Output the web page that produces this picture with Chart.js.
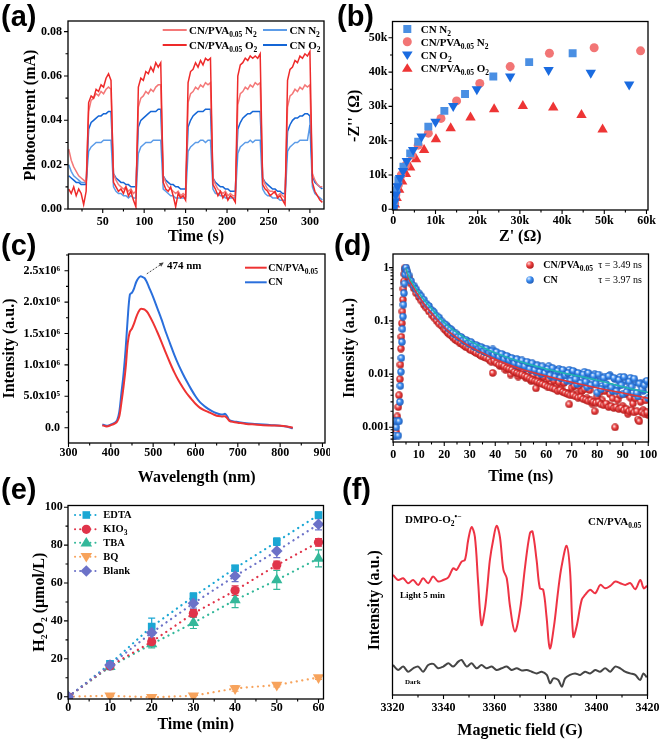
<!DOCTYPE html>
<html><head><meta charset="utf-8">
<script src="https://cdn.jsdelivr.net/npm/chart.js@4.4.1/dist/chart.umd.min.js"></script>
<style>
html,body{margin:0;padding:0;background:#fff;}
#fig{position:relative;width:661px;height:741px;overflow:hidden;background:#fff;font-family:"Liberation Serif","Times New Roman",serif;}
canvas{position:absolute;}
.pl{position:absolute;font-family:"Liberation Sans",Arial,sans-serif;font-weight:bold;font-size:29px;line-height:29px;color:#000;}
.lg{position:absolute;font-weight:bold;font-size:11px;line-height:14px;white-space:nowrap;color:#000;}
.lg sub{font-size:7.5px;vertical-align:-2.5px;line-height:0;}
.lg sup{font-size:7.5px;vertical-align:4px;line-height:0;}
#ov{position:absolute;left:0;top:0;width:661px;height:741px;overflow:visible;}
</style></head>
<body><div id="fig">
<canvas id="ca"></canvas><canvas id="cb"></canvas><canvas id="cc"></canvas>
<canvas id="cd"></canvas><canvas id="ce"></canvas><canvas id="cf"></canvas>

<svg id="ov" width="661" height="741" xmlns="http://www.w3.org/2000/svg">
<defs>
<radialGradient id="gRed" cx="0.35" cy="0.3" r="0.75"><stop offset="0" stop-color="#ffd8d8"/><stop offset="0.45" stop-color="#ec4040"/><stop offset="1" stop-color="#a81818"/></radialGradient>
<radialGradient id="gBlue" cx="0.35" cy="0.3" r="0.75"><stop offset="0" stop-color="#e0eeff"/><stop offset="0.45" stop-color="#3a8cf0"/><stop offset="1" stop-color="#1d58b2"/></radialGradient>
</defs>
<line x1="162.7" y1="30" x2="186.7" y2="30" stroke="#f47878" stroke-width="2"/>
<line x1="263" y1="30" x2="287" y2="30" stroke="#5c9ce8" stroke-width="2"/>
<line x1="162.7" y1="45" x2="186.7" y2="45" stroke="#ee2a2a" stroke-width="2"/>
<line x1="263" y1="45" x2="287" y2="45" stroke="#1466d6" stroke-width="2"/>
<rect x="403.3" y="25" width="8" height="8" fill="#4a8fe3"/>
<circle cx="407.3" cy="41.7" r="4.5" fill="#f27575"/>
<polygon points="402,51.5 412.6,51.5 407.3,60" fill="#1a6be0"/>
<polygon points="402,71.8 412.6,71.8 407.3,63.3" fill="#ee3535"/>
<line x1="245" y1="267.7" x2="266.7" y2="267.7" stroke="#ee3333" stroke-width="2"/>
<line x1="245" y1="282.3" x2="266.7" y2="282.3" stroke="#2a6fdc" stroke-width="2"/>
<circle cx="530" cy="265" r="3.8" fill="url(#gRed)"/>
<circle cx="530" cy="280" r="3.8" fill="url(#gBlue)"/>
<line x1="75" y1="515" x2="98" y2="515" stroke="#1ba7d4" stroke-width="2" stroke-dasharray="0.1 5" stroke-linecap="round"/>
<rect x="82.5" y="511.2" width="7.6" height="7.6" fill="#1ba7d4"/>
<line x1="75" y1="529.3" x2="98" y2="529.3" stroke="#e0344a" stroke-width="2" stroke-dasharray="0.1 5" stroke-linecap="round"/>
<circle cx="86.3" cy="529.3" r="4.6" fill="#e0344a"/>
<line x1="75" y1="542.7" x2="98" y2="542.7" stroke="#34b89a" stroke-width="2" stroke-dasharray="0.1 5" stroke-linecap="round"/>
<polygon points="80.5,546.5 92.1,546.5 86.3,537" fill="#34b89a"/>
<line x1="75" y1="556.7" x2="98" y2="556.7" stroke="#f7a35c" stroke-width="2" stroke-dasharray="0.1 5" stroke-linecap="round"/>
<polygon points="80.5,552.9 92.1,552.9 86.3,562.4" fill="#f7a35c"/>
<line x1="75" y1="571" x2="98" y2="571" stroke="#6c72c8" stroke-width="2" stroke-dasharray="0.1 5" stroke-linecap="round"/>
<polygon points="86.3,565.2 92.1,571 86.3,576.8 80.5,571" fill="#6c72c8"/>
</svg>

<div class="pl" style="left:1px;top:2px">(a)</div>
<div class="pl" style="left:337px;top:2px">(b)</div>
<div class="pl" style="left:1px;top:231px">(c)</div>
<div class="pl" style="left:334px;top:231px">(d)</div>
<div class="pl" style="left:1px;top:475px">(e)</div>
<div class="pl" style="left:342px;top:475px">(f)</div>

<div class="lg" style="left:189px;top:23px">CN/PVA<sub>0.05</sub> N<sub>2</sub></div>
<div class="lg" style="left:289.5px;top:23px">CN N<sub>2</sub></div>
<div class="lg" style="left:189px;top:38px">CN/PVA<sub>0.05</sub> O<sub>2</sub></div>
<div class="lg" style="left:289.5px;top:38px">CN O<sub>2</sub></div>

<div class="lg" style="left:420.7px;top:22px">CN N<sub>2</sub></div>
<div class="lg" style="left:420.7px;top:34.7px">CN/PVA<sub>0.05</sub> N<sub>2</sub></div>
<div class="lg" style="left:420.7px;top:48px">CN O<sub>2</sub></div>
<div class="lg" style="left:420.7px;top:60.7px">CN/PVA<sub>0.05</sub> O<sub>2</sub></div>

<div class="lg" style="left:268.3px;top:260.7px;font-size:10px">CN/PVA<sub>0.05</sub></div>
<div class="lg" style="left:268.3px;top:275.3px;font-size:10px">CN</div>
<div class="lg" style="left:167px;top:258px">474 nm</div>

<div class="lg" style="left:543.3px;top:258px;font-size:10px">CN/PVA<sub>0.05</sub></div>
<div class="lg" style="left:598.3px;top:258px;font-size:10px;font-weight:normal">τ = 3.49 ns</div>
<div class="lg" style="left:543.3px;top:273px;font-size:10px">CN</div>
<div class="lg" style="left:598.3px;top:273px;font-size:10px;font-weight:normal">τ = 3.97 ns</div>

<div class="lg" style="left:103.3px;top:508px;font-size:10.5px">EDTA</div>
<div class="lg" style="left:103.3px;top:522.3px;font-size:10.5px">KIO<sub>3</sub></div>
<div class="lg" style="left:103.3px;top:535.7px;font-size:10.5px">TBA</div>
<div class="lg" style="left:103.3px;top:549.7px;font-size:10.5px">BQ</div>
<div class="lg" style="left:103.3px;top:564px;font-size:10.5px">Blank</div>

<div class="lg" style="left:405px;top:512px">DMPO-O<sub>2</sub><sup>•−</sup></div>
<div class="lg" style="left:588px;top:513.5px">CN/PVA<sub>0.05</sub></div>
<div class="lg" style="left:400px;top:588px;font-size:9px">Light 5 min</div>
<div class="lg" style="left:405px;top:675px;font-size:7px">Dark</div>
</div>

<script>
// ---------------- DATA ----------------
// (a) photocurrent, time in s, current in mA
const aTime = [9,12,15,18,21,24,27,30,33,36,39,42,45,48,51,54,57,60,63,66,69,72,75,78,81,84,87,90,93,96,99,102,105,108,111,114,117,120,123,126,129,132,135,138,141,144,147,150,153,156,159,162,165,168,171,174,177,180,183,186,189,192,195,198,201,204,207,210,213,216,219,222,225,228,231,234,237,240,243,246,249,252,255,258,261,264,267,270,273,276,279,282,285,288,291,294,297,300,303,306,309,312,315];
const aPvaO2 = [0.009,0.007,0.010,0.006,0.009,0.007,0.002,0.008,
 0.048,0.051,0.050,0.054,0.053,0.056,0.055,0.059,0.061,0.058,
 0.012,0.010,0.008,0.009,0.007,0.010,0.006,0.008,0.004,0.001,
 0.055,0.059,0.058,0.062,0.061,0.064,0.062,0.066,0.064,0.066,
 0.012,0.009,0.008,0.010,0.006,0.001,0.007,0.005,0.006,0.004,
 0.057,0.062,0.063,0.066,0.064,0.067,0.065,0.068,0.067,0.068,
 0.011,0.009,0.006,0.008,0.005,0.007,0.004,0.006,0.005,0.003,
 0.060,0.065,0.066,0.068,0.067,0.069,0.068,0.069,0.068,0.070,
 0.011,0.009,0.008,0.006,0.007,0.008,0.005,0.006,0.004,0.002,
 0.058,0.063,0.064,0.067,0.066,0.069,0.068,0.070,0.069,0.071,
 0.012,0.008,0.006,0.004,0.003];
const aPvaN2 = [0.027,0.022,0.019,0.017,0.015,0.014,0.013,0.012,
 0.044,0.049,0.050,0.052,0.051,0.053,0.052,0.054,0.055,0.054,
 0.016,0.013,0.011,0.010,0.009,0.010,0.008,0.009,0.007,0.008,
 0.046,0.050,0.051,0.053,0.052,0.054,0.053,0.055,0.056,0.056,
 0.015,0.012,0.010,0.009,0.008,0.007,0.008,0.006,0.007,0.006,
 0.048,0.052,0.053,0.055,0.054,0.056,0.055,0.057,0.056,0.057,
 0.014,0.011,0.009,0.008,0.007,0.008,0.006,0.007,0.006,0.006,
 0.047,0.052,0.053,0.055,0.054,0.056,0.055,0.057,0.056,0.057,
 0.014,0.011,0.009,0.008,0.008,0.007,0.006,0.007,0.006,0.005,
 0.046,0.051,0.052,0.054,0.053,0.055,0.054,0.056,0.055,0.056,
 0.016,0.013,0.011,0.010,0.010];
const aCnO2 = [0.015,0.014,0.013,0.012,0.012,0.011,0.011,0.011,
 0.036,0.039,0.040,0.041,0.042,0.042,0.043,0.043,0.044,0.044,
 0.016,0.014,0.013,0.012,0.012,0.011,0.011,0.010,0.010,0.010,
 0.037,0.040,0.041,0.042,0.043,0.044,0.044,0.044,0.045,0.045,
 0.015,0.013,0.012,0.011,0.011,0.010,0.010,0.009,0.009,0.009,
 0.037,0.040,0.042,0.043,0.044,0.044,0.044,0.045,0.045,0.045,
 0.014,0.012,0.011,0.010,0.010,0.009,0.009,0.008,0.008,0.008,
 0.036,0.039,0.041,0.042,0.043,0.043,0.044,0.044,0.044,0.044,
 0.014,0.012,0.011,0.010,0.009,0.009,0.008,0.008,0.007,0.007,
 0.035,0.038,0.040,0.041,0.041,0.042,0.042,0.043,0.043,0.042,
 0.015,0.012,0.011,0.010,0.009];
const aCnN2 = [0.020,0.017,0.015,0.014,0.013,0.012,0.012,0.012,
 0.026,0.028,0.029,0.030,0.030,0.030,0.031,0.031,0.031,0.031,
 0.010,0.008,0.007,0.007,0.006,0.006,0.005,0.006,0.005,0.005,
 0.025,0.028,0.029,0.030,0.030,0.030,0.031,0.031,0.031,0.031,
 0.009,0.008,0.007,0.006,0.006,0.005,0.005,0.005,0.005,0.005,
 0.026,0.028,0.029,0.030,0.030,0.031,0.031,0.030,0.031,0.031,
 0.009,0.007,0.007,0.006,0.006,0.005,0.005,0.005,0.005,0.005,
 0.025,0.028,0.029,0.030,0.030,0.031,0.030,0.031,0.031,0.031,
 0.009,0.007,0.006,0.006,0.005,0.005,0.005,0.004,0.004,0.004,
 0.026,0.028,0.029,0.030,0.030,0.031,0.031,0.031,0.031,0.038,
 0.010,0.007,0.006,0.005,0.004];

// (b) Nyquist, ohm
const bCnN2X = [42500,32200,23700,17000,12100,8300,5900,4000,2400,1200,700,300,100,0];
const bCnN2Y = [45500,42900,38700,33600,28700,24100,19700,16300,12400,8500,5600,3200,1300,0];
const bPvaN2X = [58600,47600,37000,27700,20500,15000,11300,8300,5900,4400,3000,1900,1200,600,300,100];
const bPvaN2Y = [46200,47100,45500,41600,36700,31600,26500,22200,18700,15800,12900,10000,7100,4200,1800,0];
const bCnO2X = [55900,46800,36800,27700,19800,14200,10000,6700,4700,3200,2300,1600,1000,600,300,100];
const bCnO2Y = [36400,39800,40600,38700,35000,30100,25500,21200,17300,14100,11200,9100,6700,4300,2300,400];
const bPvaO2X = [49600,44600,37900,30700,23900,18300,13600,10100,7300,5400,4000,3000,2100,1400,800,400,200];
const bPvaO2Y = [23300,27500,29700,30100,29200,26800,23600,20400,17300,14600,12200,10300,8100,5700,3300,1400,0];

// (c) PL spectra, intensity in units of 10^6
const cLambda = [380,390,400,410,415,420,425,430,435,440,445,450,455,460,465,470,475,480,485,490,500,510,520,530,540,550,560,570,580,590,600,610,620,630,640,650,660,665,670,675,680,690,700,720,740,760,780,800,815,830];
const cCN = [0.05,0.03,0.05,0.08,0.12,0.25,0.55,0.85,1.25,1.75,2.12,2.15,2.22,2.32,2.38,2.41,2.40,2.38,2.32,2.24,2.08,1.90,1.72,1.52,1.34,1.16,1.00,0.86,0.73,0.61,0.50,0.41,0.35,0.30,0.26,0.23,0.21,0.21,0.22,0.18,0.12,0.10,0.09,0.07,0.06,0.05,0.04,0.03,0.02,-0.01];
const cPVA = [0.04,0.02,0.04,0.07,0.10,0.18,0.40,0.65,0.95,1.35,1.53,1.58,1.66,1.76,1.84,1.89,1.89,1.88,1.85,1.80,1.67,1.52,1.36,1.19,1.03,0.88,0.75,0.64,0.54,0.46,0.38,0.32,0.28,0.25,0.22,0.19,0.18,0.18,0.18,0.15,0.11,0.09,0.08,0.06,0.05,0.04,0.035,0.03,0.02,0.0];
const cArrowFrom = [485, 2.45], cArrowTo = [525, 2.63];

// (d) TRPL decay, ns
const dTime = [0,0.4,0.8,1.2,1.6,2.0,2.3,2.6,2.8,3.0,3.2,3.4,3.6,3.8,4.0,4.2,4.4,4.6,4.8,5.0,5.5,
 6,7,8,9,10,11,12,13,14,15,16,17,18,19,20,21,22,23,24,25,26,27,28,29,30,31,32,33,34,35,36,37,38,39,40,41,42,43,44,45,46,47,48,49,50,51,52,53,54,55,56,57,58,59,60,61,62,63,64,65,66,67,68,69,70,71,72,73,74,75,76,77,78,79,80,81,82,83,84,85,86,87,88,89,90,91,92,93,94,95,96,97,98,99,100];
const dCN = [0.0007,0.0013,0.0007,0.001,0.0013,0.0007,0.0013,0.003,0.006,0.011,0.02,0.04,0.07,0.12,0.2,0.33,0.5,0.75,0.95,1.0,0.85,
 0.72,0.56,0.46,0.39,0.33,0.29,0.25,0.21,0.19,0.16,
 0.145,0.125,0.115,0.098,0.088,0.080,0.071,0.066,0.057,0.055,
 0.049,0.047,0.041,0.042,0.036,0.037,0.032,0.034,0.029,0.031,
 0.026,0.028,0.024,0.029,0.022,0.024,0.020,0.023,0.018,0.021,
 0.017,0.019,0.015,0.018,0.014,0.017,0.013,0.016,0.012,0.015,
 0.011,0.014,0.010,0.013,0.011,0.014,0.009,0.012,0.010,0.0125,
 0.0085,0.011,0.0075,0.012,0.009,0.011,0.0065,0.010,0.008,0.011,
 0.0058,0.0095,0.007,0.010,0.0045,0.0085,0.006,0.009,0.0055,0.0095,
 0.0048,0.008,0.0058,0.0088,0.0042,0.0075,0.0052,0.0085,0.0045,0.007,
 0.0038,0.0068,0.0048,0.0072,0.0035];
const dPVA = [0.0009,0.0007,0.0013,0.0008,0.0016,0.0024,0.004,0.008,0.015,0.03,0.05,0.09,0.15,0.25,0.4,0.55,0.75,0.9,1.0,0.95,0.8,
 0.66,0.50,0.41,0.33,0.28,0.24,0.20,0.175,0.15,0.13,
 0.115,0.10,0.088,0.080,0.070,0.063,0.056,0.052,0.046,0.043,
 0.039,0.037,0.034,0.033,0.029,0.029,0.026,0.027,0.023,0.024,
 0.021,0.022,0.018,0.0105,0.017,0.019,0.014,0.016,0.012,0.015,
 0.0098,0.013,0.011,0.0090,0.011,0.012,0.0085,0.010,0.0075,0.0095,
 0.0054,0.0090,0.0070,0.0088,0.0062,0.0080,0.0065,0.0075,0.0058,0.0070,
 0.0052,0.0068,0.0045,0.0027,0.0055,0.0060,0.0042,0.0058,0.0048,0.0052,
 0.0035,0.0050,0.0028,0.0020,0.0038,0.0045,0.0032,0.0048,0.0026,0.0042,
 0.0035,0.0010,0.0033,0.0040,0.0025,0.0042,0.0018,0.0036,0.0028,0.0035,
 0.0014,0.0030,0.0021,0.0032,0.0017];
// additional (interleaved) time samples of the decay
const dTime2 = [20.5,21.5,22.5,23.5,24.5,25.5,26.5,27.5,28.5,29.5,30.5,31.5,32.5,33.5,34.5,35.5,36.5,37.5,38.5,39.5,40.5,41.5,42.5,43.5,44.5,45.5,46.5,47.5,48.5,49.5,50.5,51.5,52.5,53.5,54.5,55.5,56.5,57.5,58.5,59.5,60.5,61.5,62.5,63.5,64.5,65.5,66.5,67.5,68.5,69.5,70.5,71.5,72.5,73.5,74.5,75.5,76.5,77.5,78.5,79.5,80.5,81.5,82.5,83.5,84.5,85.5,86.5,87.5,88.5,89.5,90.5,91.5,92.5,93.5,94.5,95.5,96.5,97.5,98.5,99.5];
const dCN2 = [0.085,0.074,0.069,0.060,0.058,0.050,0.050,0.043,0.044,0.038,
 0.040,0.034,0.035,0.030,0.032,0.027,0.030,0.025,0.027,0.023,
 0.026,0.021,0.024,0.019,0.022,0.018,0.020,0.016,0.019,0.015,
 0.018,0.014,0.017,0.0125,0.016,0.012,0.0145,0.011,0.014,0.0105,
 0.0125,0.0095,0.013,0.009,0.0115,0.0085,0.012,0.0095,0.0105,0.0075,
 0.0115,0.008,0.0105,0.0068,0.0098,0.0072,0.0105,0.0062,0.0092,0.0066,
 0.0098,0.0052,0.0085,0.0065,0.0092,0.0056,0.0085,0.0048,0.0078,0.0062,
 0.0088,0.0046,0.0072,0.0058,0.0082,0.0044,0.0066,0.0052,0.0062,0.0075];
const dPVA2 = [0.067,0.060,0.054,0.049,0.044,0.041,0.038,0.035,0.032,0.031,
 0.028,0.027,0.025,0.024,0.022,0.021,0.020,0.019,0.017,0.018,
 0.016,0.015,0.015,0.014,0.013,0.0125,0.012,0.011,0.0105,0.010,
 0.0098,0.0092,0.0088,0.0082,0.0078,0.0074,0.0072,0.0068,0.0065,0.0062,
 0.0058,0.0056,0.0054,0.0052,0.0048,0.0050,0.0046,0.0044,0.0042,0.0040,
 0.0041,0.0038,0.0036,0.0037,0.0034,0.0033,0.0031,0.0032,0.0030,0.0029,
 0.0030,0.0027,0.0026,0.0028,0.0024,0.0025,0.0023,0.0024,0.0022,0.0023,
 0.0021,0.0022,0.0020,0.0021,0.0019,0.0020,0.0013,0.0019,0.0018,0.0019];
const dFitTime = [5,6,8,10,12,15,20,25,30,35,40,50,60,70,80,90,100];
const dFitPVA = [0.95,0.64,0.42,0.29,0.21,0.14,0.075,0.048,0.033,0.025,0.019,0.0125,0.0092,0.007,0.0055,0.0044,0.0035];
const dFitCN = [0.97,0.70,0.47,0.34,0.25,0.17,0.092,0.060,0.042,0.032,0.025,0.017,0.0125,0.0097,0.0077,0.0058,0.0045];

// (e) H2O2 production, umol/L
const eTime = [0,10,20,30,40,50,60];
const eEDTA = [0,17.3,37,52.8,67.8,81.8,95.9];
const eKIO3 = [0,16.2,29,44,56,69.5,81.5];
const eTBA = [0,15.8,27.8,39,51,61.6,73];
const eBQ = [0,0.5,-0.3,0.5,4.4,6.2,10.2];
const eBlank = [0,16.7,33.8,49.3,63.7,76.9,91];
const eEDTAerr = [0,1.5,4.5,2,1.5,2,1.5];
const eKIO3err = [0,1,2,2,2.5,2,2];
const eTBAerr = [0,1.5,2,3,4,5,4.5];
const eBQerr = [0,0.5,0.5,0.5,1.5,1,1];
const eBlankerr = [0,1.5,3,2.5,3,3.5,3];

// (f) EPR, field in G, intensity in arbitrary units
const fLightX = [3320.2,3322.2,3324.2,3326.1,3328.1,3330.1,3332.0,3334.0,3335.9,3337.9,3339.9,3341.9,3343.8,3345.1,3347.1,3348.4,3349.7,3351.0,3352.3,3353.6,3354.9,3356.2,3357.2,3358.2,3359.5,3360.8,3362.1,3363.5,3364.8,3366.1,3368.0,3370.0,3372.0,3373.9,3374.9,3376.5,3377.8,3379.1,3380.4,3381.7,3383.3,3385.0,3386.3,3388.3,3389.6,3390.9,3392.2,3394.2,3395.5,3397.5,3399.5,3401.5,3403.4,3405.4,3407.4,3409.3,3411.3,3413.3,3415.2,3417.2,3418.5,3419.8];
const fLightY = [63.4,60.7,61.6,59.0,60.7,58.1,61.6,59.0,62.5,59.9,60.7,62.1,66.9,66.0,70.4,71.3,81.9,88.6,83.6,59.0,37.0,44.9,57.2,71.3,81.9,89.3,83.6,66.0,61.6,46.7,33.5,44.9,67.8,85.4,86.3,71.3,56.3,55.5,41.4,24.6,36.1,55.5,67.8,78.7,66.0,30.8,36.1,50.2,52.8,55.5,53.7,58.1,56.3,57.6,59.9,59.0,58.1,59.0,55.8,60.7,56.3,57.6];
const fDarkX = [3320.2,3322.2,3324.2,3326.1,3328.1,3330.1,3332.0,3334.0,3336.0,3337.9,3339.9,3341.9,3343.8,3345.8,3347.1,3349.1,3351.0,3353.0,3354.9,3356.9,3358.9,3360.8,3362.8,3364.8,3366.7,3368.7,3370.7,3372.6,3374.6,3376.5,3378.5,3380.5,3381.8,3383.1,3385.0,3386.4,3387.7,3389.6,3391.6,3393.6,3395.5,3397.5,3399.5,3401.4,3403.4,3405.4,3407.3,3409.3,3411.2,3413.2,3415.2,3417.1,3418.4,3419.7];
const fDarkY = [15.8,13.2,15.0,12.3,14.1,15.0,12.3,15.8,16.4,14.1,15.0,16.7,15.0,17.6,18.5,15.0,16.7,14.1,15.8,14.1,15.0,13.2,14.1,15.0,13.2,14.1,12.9,13.2,12.3,11.4,12.3,10.6,6.2,8.8,7.9,4.4,8.8,10.6,11.4,10.6,12.3,11.4,13.2,12.3,14.1,12.3,15.0,14.1,12.3,11.4,10.6,7.9,11.4,9.3];

// tick labels (major ticks)
const aXTicks = [50,100,150,200,250,300], aYTicks = [0,0.02,0.04,0.06,0.08];
const bXTicks = [0,10000,20000,30000,40000,50000,60000], bYTicks = [0,10000,20000,30000,40000,50000];
const cXTicks = [300,400,500,600,700,800,900], cYTicks = [0,500000,1000000,1500000,2000000,2500000];
const dXTicks = [0,10,20,30,40,50,60,70,80,90,100], dYTicks = [0.001,0.01,0.1,1];
const dYMinor = [0.0006,0.0007,0.0008,0.0009,0.002,0.003,0.004,0.005,0.006,0.007,0.008,0.009,0.02,0.03,0.04,0.05,0.06,0.07,0.08,0.09,0.2,0.3,0.4,0.5,0.6,0.7,0.8,0.9];
const eXTicks = [0,10,20,30,40,50,60], eYTicks = [0,20,40,60,80,100];
const fXTicks = [3320,3340,3360,3380,3400,3420];

// ---------------- HELPERS ----------------
const SERIF = '"Liberation Serif","Times New Roman",serif';
function isMajor(majors, v){ return majors.some(m => Math.abs(m - v) <= 1e-9 * Math.max(1, Math.abs(m))); }
function gridTicks(step, min, max){ const out=[]; const a=Math.ceil(min/step-1e-9), b=Math.floor(max/step+1e-9); for(let k=a;k<=b;k++) out.push(+(k*step).toPrecision(12)); return out; }
const pts = (xs, ys, k) => xs.map((x,i)=>({x, y: ys[i]*(k||1)}));

function frame(opts){
  return { id:'frame', afterDraw(chart){
    const {ctx, chartArea:a} = chart;
    const xs = chart.scales.x, ys = chart.scales.y;
    ctx.save();
    ctx.strokeStyle='#000'; ctx.lineWidth=1.1;
    ctx.beginPath();
    if (opts.x !== false) xs.ticks.forEach(t => { const p = xs.getPixelForValue(t.value); if (p < a.left-0.6 || p > a.right+0.6) return; const L = t.label ? 4 : 2.5; ctx.moveTo(p, a.bottom); ctx.lineTo(p, a.bottom + L); });
    if (opts.y !== false) ys.ticks.forEach(t => { const p = ys.getPixelForValue(t.value); if (p < a.top-0.6 || p > a.bottom+0.6) return; const L = t.label ? 4 : 2.5; ctx.moveTo(a.left, p); ctx.lineTo(a.left - L, p); });
    ctx.stroke();
    ctx.lineWidth=1.3;
    ctx.strokeRect(a.left, a.top, a.right-a.left, a.bottom-a.top);
    ctx.restore();
  }};
}

function makePanel(id, box, area, xs, ys, datasets, extra){
  extra = extra || {};
  const cv = document.getElementById(id);
  cv.width = box.w; cv.height = box.h;
  cv.style.left = box.x+'px'; cv.style.top = box.y+'px';
  cv.style.width = box.w+'px'; cv.style.height = box.h+'px';
  const mk = (s, isX) => ({
    type: s.type || 'linear', position: isX?'bottom':'left', min:s.min, max:s.max,
    grid:{display:false, drawTicks:false}, border:{display:false},
    ticks:{display: s.labels !== false, autoSkip:false, maxRotation:0, minRotation:0, padding:s.pad||0, color:'#000',
      font:{family:SERIF, weight:'bold', size:12}, callback:(v)=> isMajor(s.majors, v) ? s.fmt(v) : ''},
    title:{display:true, text:s.title, color:'#000', font:{family:SERIF, weight:'bold', size:16},
      padding: isX?{top:0,bottom:s.tpad}:{top:s.tpad,bottom:0}},
    afterBuildTicks:(sc)=>{ sc.ticks = s.all.map(v=>({value:v})); },
    afterFit:(sc)=>{ if(isX){ sc.height = box.y+box.h-area.b; sc.paddingLeft=0; sc.paddingRight=0; } else { sc.width = area.l-box.x; sc.paddingTop=0; sc.paddingBottom=0; } }
  });
  return new Chart(cv, {
    type:'scatter',
    data:{datasets},
    options:{ responsive:false, maintainAspectRatio:false, animation:false, devicePixelRatio:1, events:[],
      layout:{padding:{left:0, top:area.t-box.y, right:box.x+box.w-area.r, bottom:0}},
      plugins:{legend:{display:false}, tooltip:{enabled:false}},
      scales:{x:mk(xs,true), y:mk(ys,false)} },
    plugins:[frame(extra.frame || {}), ...(extra.plugins || [])]
  });
}
const line = (data, color, w, order, more) => Object.assign({data, borderColor:color, backgroundColor:color, borderWidth:w, pointRadius:0, showLine:true, tension:0, order}, more||{});
const kfmt = v => v===0 ? '0' : (v/1000)+'k';
const SUPS = {5:'⁵',6:'⁶'};
const sci = v => { if (Math.abs(v) < 1) return '0.0'; const e = Math.floor(Math.log10(v)+1e-9); return (v/Math.pow(10,e)).toFixed(1)+'x10'+SUPS[e]; };

// ---------------- (a) ----------------
makePanel('ca', {x:0,y:0,w:330,h:250}, {l:68,t:21,r:324,b:209},
  {min:8.1, max:317, majors:aXTicks, all:gridTicks(25,8.1,317), fmt:String, pad:5.5, title:'Time (s)', tpad:3.4},
  {min:0, max:0.0848, majors:aYTicks, all:gridTicks(0.01,0,0.0848), fmt:v=>v.toFixed(2), pad:6, title:'Photocurrent (mA)', tpad:21},
  [ line(pts(aTime,aPvaO2), '#ee2a2a', 1.5, 0),
    line(pts(aTime,aPvaN2), '#f47878', 1.5, 1),
    line(pts(aTime,aCnO2), '#1466d6', 1.5, 2),
    line(pts(aTime,aCnN2), '#5c9ce8', 1.5, 3) ]);

// ---------------- (b) ----------------
const sc = (data, color, style, r, rot, order) => ({data, pointStyle:style, pointRadius:r, rotation:rot||0, backgroundColor:color, borderColor:color, pointBorderWidth:0, showLine:false, order});
makePanel('cb', {x:330,y:0,w:331,h:250}, {l:392.5,t:21.5,r:648,b:210},
  {min:-190, max:60360, majors:bXTicks, all:gridTicks(5000,-190,60360), fmt:kfmt, pad:3.8, title:"Z' (Ω)", tpad:3.4},
  {min:-200, max:54750, majors:bYTicks, all:gridTicks(5000,-200,54750), fmt:kfmt, pad:5.2, title:"-Z'' (Ω)", tpad:15.4},
  [ sc(pts(bCnO2X,bCnO2Y), '#1a6be0', 'triangle', 6, 180, 0),
    sc(pts(bCnN2X,bCnN2Y), '#4a8fe3', 'rect', 5.6, 0, 1),
    sc(pts(bPvaN2X,bPvaN2Y), '#f27575', 'circle', 4.5, 0, 2),
    sc(pts(bPvaO2X,bPvaO2Y), '#ee3535', 'triangle', 6, 0, 3) ]);

// ---------------- (c) ----------------
const arrowPlugin = { id:'arrow', afterDatasetsDraw(chart){
  const xs=chart.scales.x, ys=chart.scales.y, ctx=chart.ctx;
  const x1=xs.getPixelForValue(cArrowFrom[0]), y1=ys.getPixelForValue(cArrowFrom[1]*1e6);
  const x2=xs.getPixelForValue(cArrowTo[0]), y2=ys.getPixelForValue(cArrowTo[1]*1e6);
  ctx.save(); ctx.strokeStyle='#444'; ctx.fillStyle='#444'; ctx.lineWidth=1; ctx.setLineDash([2,1.5]);
  ctx.beginPath(); ctx.moveTo(x1,y1); ctx.lineTo(x2,y2); ctx.stroke(); ctx.setLineDash([]);
  const ang=Math.atan2(y2-y1,x2-x1);
  ctx.beginPath(); ctx.moveTo(x2,y2); ctx.lineTo(x2-5*Math.cos(ang-0.45), y2-5*Math.sin(ang-0.45)); ctx.lineTo(x2-5*Math.cos(ang+0.45), y2-5*Math.sin(ang+0.45)); ctx.closePath(); ctx.fill();
  ctx.restore(); } };
makePanel('cc', {x:0,y:240,w:330,h:250}, {l:68.5,t:254,r:325,b:443},
  {min:300, max:906, majors:cXTicks, all:gridTicks(50,300,906), fmt:String, pad:3.1, title:'Wavelength (nm)', tpad:2.1},
  {min:-244000, max:2766000, majors:cYTicks, all:gridTicks(250000,-244000,2766000), fmt:sci, pad:8.5, title:'Intensity (a.u.)', tpad:0},
  [ line(pts(cLambda,cPVA,1e6), '#ee3333', 2, 0, {tension:0.3}),
    line(pts(cLambda,cCN,1e6), '#2a6fdc', 2, 1, {tension:0.3}) ],
  {plugins:[arrowPlugin]});

// ---------------- (d) ----------------
function ball(color, dark){
  const c = document.createElement('canvas'); c.width = 8; c.height = 8;
  const g = c.getContext('2d');
  const gr = g.createRadialGradient(2.9,2.7,0.2,4,4,4);
  gr.addColorStop(0,'#ffffff'); gr.addColorStop(0.45,color); gr.addColorStop(1,dark);
  g.fillStyle = gr; g.beginPath(); g.arc(4,4,3.7,0,Math.PI*2); g.fill();
  return c;
}
const ballBlue = ball('#3a8cf0','#1d58b2'), ballRed = ball('#ec4040','#a81818');
makePanel('cd', {x:330,y:240,w:331,h:250}, {l:393,t:254,r:648.5,b:442},
  {min:-0.1, max:100.1, majors:dXTicks, all:gridTicks(5,-0.1,100.1), fmt:String, pad:5.8, title:'Time (ns)', tpad:3.1},
  {type:'logarithmic', min:0.00053, max:1.8, majors:dYTicks, all:[...dYTicks, ...dYMinor].sort((a,b)=>a-b), fmt:String, pad:3.7, title:'Intensity (a.u.)', tpad:10.4},
  [ line(pts(dFitTime,dFitCN), '#1fb5b0', 1.5, 0, {cubicInterpolationMode:'monotone'}),
    line(pts(dFitTime,dFitPVA), '#e33535', 1.5, 1, {cubicInterpolationMode:'monotone'}),
    {data:pts(dTime2,dCN2), pointStyle:ballBlue, pointRadius:3.5, showLine:false, order:2},
    {data:pts(dTime,dCN), pointStyle:ballBlue, pointRadius:3.5, showLine:false, order:3},
    {data:pts(dTime2,dPVA2), pointStyle:ballRed, pointRadius:3.5, showLine:false, order:4},
    {data:pts(dTime,dPVA), pointStyle:ballRed, pointRadius:3.5, showLine:false, order:5} ]);

// ---------------- (e) ----------------
const eSeries = [
  {vals:eBlank, err:eBlankerr, color:'#6c72c8', style:'rectRot', r:5.8, rot:0},
  {vals:eKIO3, err:eKIO3err, color:'#e0344a', style:'circle', r:4.6, rot:0},
  {vals:eEDTA, err:eEDTAerr, color:'#1ba7d4', style:'rect', r:5.4, rot:0},
  {vals:eTBA, err:eTBAerr, color:'#34b89a', style:'triangle', r:6.5, rot:0},
  {vals:eBQ, err:eBQerr, color:'#f7a35c', style:'triangle', r:6.5, rot:180}
];
const errPlugin = { id:'err', beforeDatasetsDraw(chart){
  const {ctx} = chart; const xs = chart.scales.x, ys = chart.scales.y;
  ctx.save(); ctx.lineWidth = 1.2;
  eSeries.forEach(s => { ctx.strokeStyle = s.color; ctx.beginPath();
    eTime.forEach((t,i) => { const e = s.err[i]; if (!e) return;
      const x = xs.getPixelForValue(t), y1 = ys.getPixelForValue(s.vals[i]+e), y2 = ys.getPixelForValue(s.vals[i]-e);
      ctx.moveTo(x,y1); ctx.lineTo(x,y2); ctx.moveTo(x-3.5,y1); ctx.lineTo(x+3.5,y1); ctx.moveTo(x-3.5,y2); ctx.lineTo(x+3.5,y2); });
    ctx.stroke(); });
  ctx.restore(); } };
makePanel('ce', {x:0,y:490,w:330,h:251}, {l:68,t:505.5,r:324,b:699},
  {min:-0.07, max:61.2, majors:eXTicks, all:gridTicks(5,-0.07,61.2), fmt:String, pad:2.1, title:'Time (min)', tpad:6.4},
  {min:-1.2, max:100.9, majors:eYTicks, all:gridTicks(10,-1.2,100.9), fmt:String, pad:5.3, title:'H₂O₂ (μmol/L)', tpad:30.4},
  eSeries.map((s,i) => ({data:pts(eTime,s.vals), showLine:true, borderColor:s.color, backgroundColor:s.color, borderWidth:2.2,
    borderDash:[0.1,5.5], borderCapStyle:'round', pointStyle:s.style, pointRadius:s.r, rotation:s.rot, pointBorderWidth:0, order:i})),
  {plugins:[errPlugin]});

// ---------------- (f) ----------------
makePanel('cf', {x:330,y:490,w:331,h:251}, {l:392.5,t:505.5,r:647.5,b:695},
  {min:3320, max:3420, majors:fXTicks, all:gridTicks(10,3320,3420), fmt:String, pad:5.8, title:'Magnetic field (G)', tpad:0.7},
  {min:0, max:100, majors:[], all:[], labels:false, fmt:String, pad:0, title:'Intensity (a.u.)', tpad:35.4},
  [ line(pts(fLightX,fLightY), '#ee3344', 2, 0, {tension:0.35}),
    line(pts(fDarkX,fDarkY), '#454545', 2, 1, {tension:0.3}) ],
  {frame:{y:false}});
</script>
</body></html>
